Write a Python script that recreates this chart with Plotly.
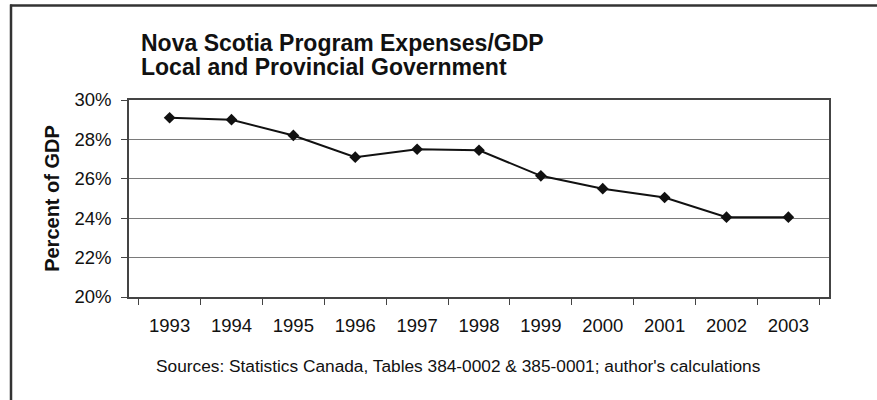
import plotly.graph_objects as go

years = ["1993", "1994", "1995", "1996", "1997", "1998", "1999", "2000", "2001", "2002", "2003"]
pct_gdp = [29.1, 29.0, 28.2, 27.1, 27.5, 27.45, 26.15, 25.5, 25.05, 24.05, 24.05]

title_line1 = "Nova Scotia Program Expenses/GDP"
title_line2 = "Local and Provincial Government"
source_text = "Sources: Statistics Canada, Tables 384-0002 & 385-0001; author's calculations"
y_title = "Percent of GDP"

W, H = 877, 400
ML, MR, MT, MB = 129, 48, 100, 103
PW = W - ML - MR
PH = H - MT - MB

def px(x):
    return (x - ML) / PW

def py(y):
    return (H - MB - y) / PH

FONT = "Liberation Sans, Arial, sans-serif"

fig = go.Figure()
fig.add_trace(go.Scatter(
    x=years, y=pct_gdp, mode="lines+markers",
    line=dict(color="#111111", width=2),
    marker=dict(symbol="diamond", size=9, color="#111111"),
    showlegend=False,
))

fig.update_layout(
    width=W, height=H,
    margin=dict(l=ML, r=MR, t=MT, b=MB),
    paper_bgcolor="white", plot_bgcolor="white",
    font=dict(family=FONT, color="#111111", size=18),
    xaxis=dict(
        type="category", showgrid=False,
        showline=True, linecolor="#444444", linewidth=1.5, mirror=True,
        ticks="outside", tickson="boundaries", ticklen=6, tickcolor="#444444",
        tickfont=dict(size=18.5, family=FONT, color="#111111"),
        ticklabelstandoff=11,
    ),
    yaxis=dict(
        range=[20, 30], dtick=2, tick0=20, ticksuffix="%",
        showgrid=True, gridcolor="#7a7a7a", gridwidth=1.2,
        showline=True, linecolor="#444444", linewidth=1.5, mirror=True,
        ticks="outside", ticklen=6, tickcolor="#444444",
        tickfont=dict(size=18.5, family=FONT, color="#111111"),
        ticklabelstandoff=6,
        title=dict(text="<b>" + y_title + "</b>", font=dict(size=20, family=FONT, color="#111111"), standoff=10),
    ),
    annotations=[
        dict(text="<b>" + title_line1 + "</b>", xref="paper", yref="paper",
             x=px(139), y=py(43.5), xanchor="left", yanchor="middle", showarrow=False,
             font=dict(size=23, family=FONT, color="#111111")),
        dict(text="<b>" + title_line2 + "</b>", xref="paper", yref="paper",
             x=px(139), y=py(66.5), xanchor="left", yanchor="middle", showarrow=False,
             font=dict(size=23, family=FONT, color="#111111")),
        dict(text=source_text, xref="paper", yref="paper",
             x=px(458.5), y=py(366), xanchor="center", yanchor="middle", showarrow=False,
             font=dict(size=17.3, family=FONT, color="#111111")),
    ],
    shapes=[
        dict(type="line", xref="paper", yref="paper", x0=px(10), x1=px(877), y0=py(5.5), y1=py(5.5),
             line=dict(color="#333333", width=2.5)),
        dict(type="line", xref="paper", yref="paper", x0=px(11), x1=px(11), y0=py(4.5), y1=py(400),
             line=dict(color="#333333", width=2.5)),
    ],
)

# remove the browser's default 8px body margin so the figure sits at the page origin
fig.write_html("out.html", config={"displayModeBar": False},
               post_script="document.body.style.margin='0';")
